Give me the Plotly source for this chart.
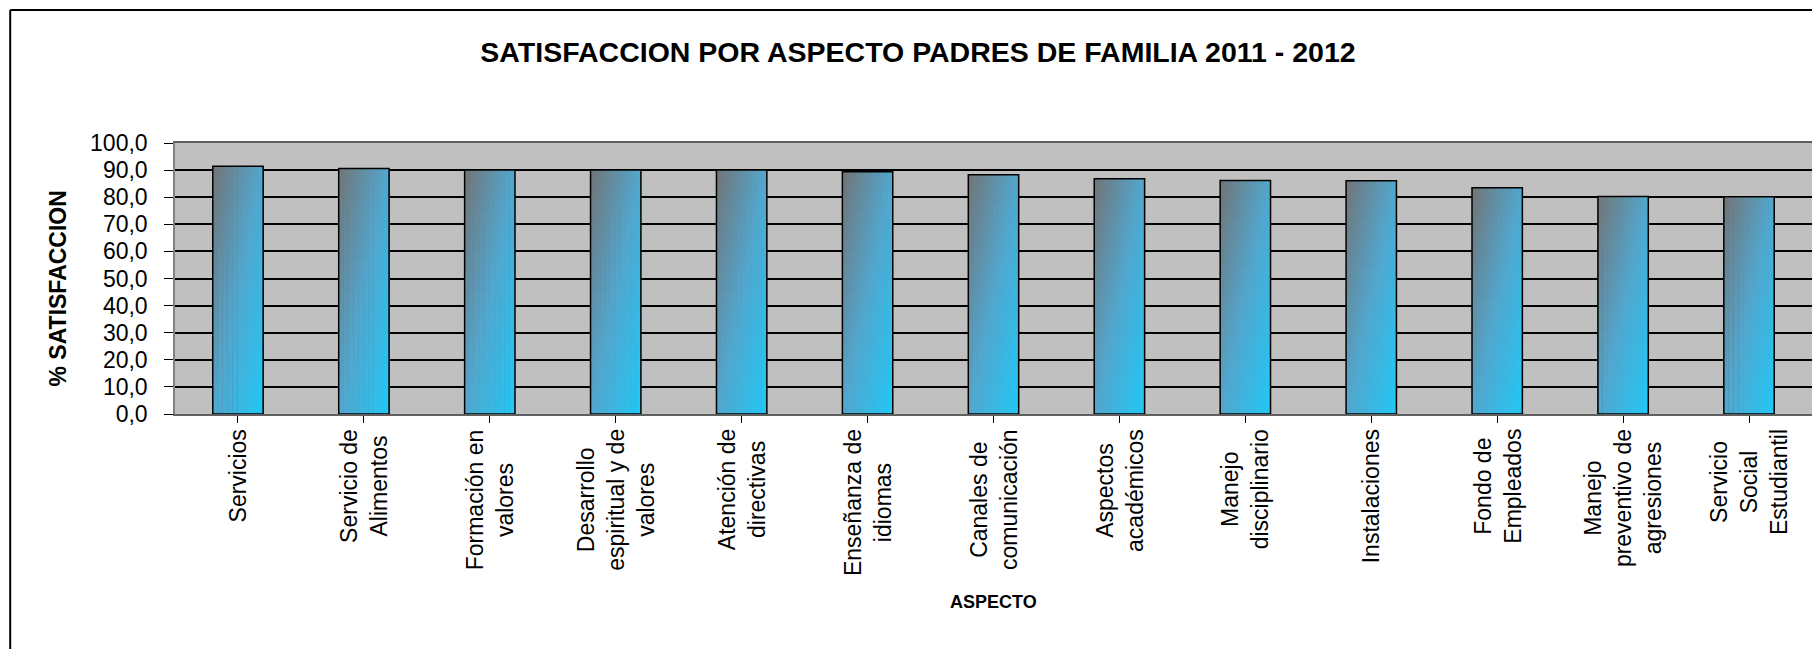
import plotly.graph_objects as go

categories = [
    "Servicios",
    "Servicio de<br>Alimentos",
    "Formación en<br>valores",
    "Desarrollo<br>espiritual y de<br>valores",
    "Atención de<br>directivas",
    "Enseñanza de<br>idiomas",
    "Canales de<br>comunicación",
    "Aspectos<br>académicos",
    "Manejo<br>disciplinario",
    "Instalaciones",
    "Fondo de<br>Empleados",
    "Manejo<br>preventivo de<br>agresiones",
    "Servicio<br>Social<br>Estudiantil",
]
values = [91.4, 90.6, 90.0, 90.0, 90.0, 89.4, 88.3, 86.8, 86.2, 86.1, 83.5, 80.3, 80.2]
y_ticks = [0, 10, 20, 30, 40, 50, 60, 70, 80, 90, 100]

TITLE = "SATISFACCION POR ASPECTO PADRES DE FAMILIA 2011 - 2012"
Y_TITLE = "% SATISFACCION"
X_TITLE = "ASPECTO"

FONT = "Liberation Sans, Arial, sans-serif"
# the page body has an 8px margin, so the figure is made 8px smaller
OFF = 8
W, H = 1820 - OFF, 649 - OFF
L, R, T, B = 175 - OFF, 6, 143 - OFF, 649 - 414
BAR_W = 0.4

# gradient stops (diagonal, top-left -> bottom-right)
stops = [(0.0, (114, 116, 118)), (0.5, (82, 166, 205)), (1.0, (32, 200, 246))]


def grad(t):
    for (t0, c0), (t1, c1) in zip(stops[:-1], stops[1:]):
        if t <= t1:
            f = (t - t0) / (t1 - t0)
            return "rgb(%d,%d,%d)" % tuple(round(a + (b - a) * f) for a, b in zip(c0, c1))
    return "rgb(%d,%d,%d)" % stops[-1][1]


xs = list(range(len(categories)))
fig = go.Figure()

M, N = 10, 24
dw = BAR_W / M
for k in range(M):
    for j in range(N):
        t = ((k + 0.5) / M + (j + 0.5) / N) / 2
        fig.add_trace(go.Bar(
            x=xs,
            y=[v * (N - j) / N for v in values],
            width=BAR_W - k * dw,
            offset=-BAR_W / 2 + k * dw,
            marker=dict(color=grad(t), line=dict(width=0)),
            hoverinfo="skip",
            showlegend=False,
        ))

# outline of each bar
fig.add_trace(go.Bar(
    x=xs,
    y=values,
    width=BAR_W,
    offset=-BAR_W / 2,
    marker=dict(color="rgba(0,0,0,0)", line=dict(color="#000000", width=1.5)),
    showlegend=False,
    hovertemplate="%{y:.1f}<extra></extra>",
))

annotations = []
for i, c in enumerate(categories):
    annotations.append(dict(
        x=i, y=0, xref="x", yref="paper",
        text=c, showarrow=False, textangle=-90,
        xanchor="center", yanchor="top", yshift=-13, align="center",
        font=dict(family=FONT, size=23, color="#000000"),
    ))

annotations.append(dict(
    x=0.5, y=0, xref="paper", yref="paper", text="<b>%s</b>" % X_TITLE,
    showarrow=False, xanchor="center", yanchor="middle", yshift=-188,
    font=dict(family=FONT, size=18, color="#000000"),
))
annotations.append(dict(
    x=0, y=0.5, xref="paper", yref="paper", text="<b>%s</b>" % Y_TITLE,
    showarrow=False, textangle=-90, xanchor="center", yanchor="middle",
    xshift=-118, yshift=-10,
    font=dict(family=FONT, size=23, color="#000000"),
))

pw = W - L - R
ph = H - T - B
bx = 10 - OFF   # chart border left, in figure pixels
by = 10 - OFF   # chart border top, in figure pixels
shapes = [
    dict(type="line", xref="paper", yref="paper",
         x0=(bx - L) / pw, x1=(bx - L) / pw, y0=(H - by - B) / ph, y1=(-B - 5) / ph,
         line=dict(color="#000000", width=2)),
    dict(type="line", xref="paper", yref="paper",
         x0=(bx - L) / pw, x1=(W + 5 - L) / pw, y0=(H - by - B) / ph, y1=(H - by - B) / ph,
         line=dict(color="#000000", width=2)),
]

fig.update_layout(
    width=W, height=H,
    margin=dict(l=L, r=R, t=T, b=B, pad=0),
    paper_bgcolor="#FFFFFF",
    plot_bgcolor="#C0C0C0",
    barmode="overlay",
    separators=",.",
    title=dict(text="<b>%s</b>" % TITLE, x=(918 - OFF) / W, xref="container", xanchor="center",
               y=1 - (52 - OFF) / H, yref="container", yanchor="middle",
               font=dict(family=FONT, size=28.5, color="#000000")),
    xaxis=dict(
        range=[-0.5, len(categories) - 0.5],
        tickmode="array", tickvals=xs, ticktext=[""] * len(xs),
        showticklabels=False,
        tickson="boundaries", ticks="outside", ticklen=7, tickcolor="#000000", tickwidth=1.2,
        showline=True, linecolor="#606060", linewidth=1.5, mirror=True,
        showgrid=False, zeroline=False,
    ),
    yaxis=dict(
        range=[0, 100],
        tickmode="array", tickvals=y_ticks, tickformat=".1f",
        ticks="outside", ticklen=9, tickcolor="#000000", tickwidth=1.2,
        ticklabelstandoff=12,
        tickfont=dict(family=FONT, size=23, color="#000000"),
        showline=True, linecolor="#808080", linewidth=1.5, mirror=True,
        showgrid=True, gridcolor="#000000", gridwidth=1.6,
        zeroline=False,
    ),
    annotations=annotations,
    shapes=shapes,
    showlegend=False,
)

fig.write_html("out.html")
